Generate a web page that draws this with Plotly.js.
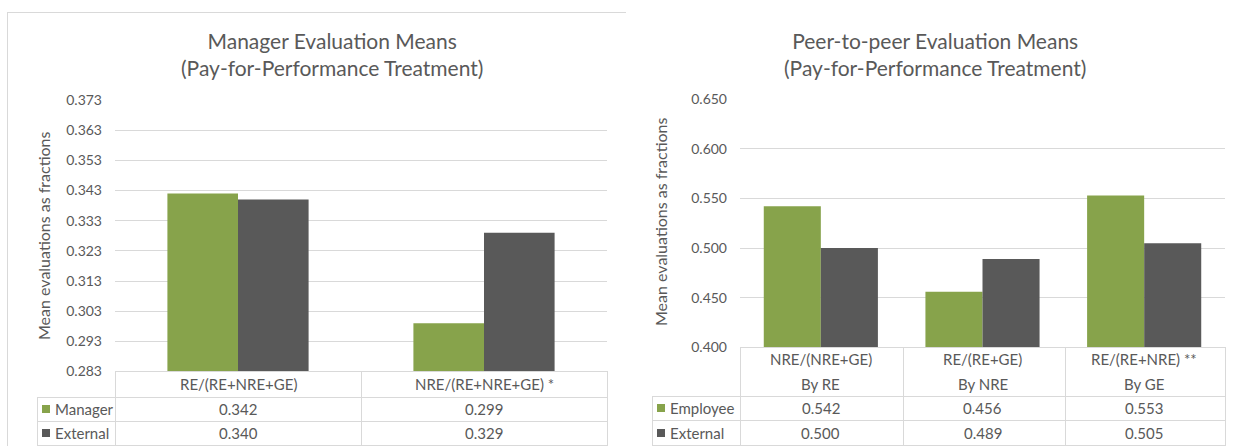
<!DOCTYPE html>
<html>
<head>
<meta charset="utf-8">
<script src="https://cdn.plot.ly/plotly-3.0.1.min.js"></script>
<style>html,body{margin:0;padding:0;background:#fff;}#chart{width:1234px;height:446px;}</style>
</head>
<body>
<div id="chart"></div>
<script>
// ---- data ----
const leftCategories = ['RE/(RE+NRE+GE)', 'NRE/(RE+NRE+GE) *'];
const managerValues = [0.342, 0.299];
const leftExternalValues = [0.340, 0.329];
const leftTickVals = [0.283, 0.293, 0.303, 0.313, 0.323, 0.333, 0.343, 0.353, 0.363, 0.373];

const rightCategories = ['NRE/(NRE+GE)', 'RE/(RE+GE)', 'RE/(RE+NRE) **'];
const rightSubLabels = ['By RE', 'By NRE', 'By GE'];
const employeeValues = [0.542, 0.456, 0.553];
const rightExternalValues = [0.500, 0.489, 0.505];
const rightTickVals = [0.400, 0.450, 0.500, 0.550, 0.600, 0.650];

const leftTitle = 'Manager Evaluation Means<br>(Pay-for-Performance Treatment)';
const rightTitle = 'Peer-to-peer Evaluation Means<br>(Pay-for-Performance Treatment)';
const yTitle = 'Mean evaluations as fractions';

// ---- layout helpers ----
const W = 1234, H = 446;
const px = x => x / W;
const py = y => 1 - y / H;
const GREEN = '#87a34b', GRAY = '#595959', LINE = '#d9d9d9', TXT = '#595959';
const FONT = 'Lato, "Open Sans", sans-serif';

const shapes = [];
const annotations = [];
function hline(x0, x1, y) { shapes.push({type:'line', xref:'paper', yref:'paper', x0:px(x0), x1:px(x1), y0:py(y), y1:py(y), line:{color:LINE, width:1}}); }
function vline(x, y0, y1) { shapes.push({type:'line', xref:'paper', yref:'paper', x0:px(x), x1:px(x), y0:py(y0), y1:py(y1), line:{color:LINE, width:1}}); }
function text(t, x, y, opts) {
  annotations.push(Object.assign({text:t, x:x, y:y, showarrow:false, font:{family:FONT, size:15, color:TXT}}, opts));
}

// chart border (left chart)
hline(7, 626, 12.5);
vline(7.5, 12, 446);

// ---- left table ----
hline(115, 607, 371.5);
hline(37, 607, 397.5);
hline(37, 607, 421.5);
hline(37, 607, 445.5);
vline(37.5, 397, 446);
[115.5, 361.5, 607.5].forEach(x => vline(x, 371, 446));
leftCategories.forEach((c, i) => {
  text(c, i, py(384), {xref:'x', yref:'paper', xanchor:'center', yanchor:'middle'});
  text(managerValues[i].toFixed(3), i, py(409), {xref:'x', yref:'paper', xanchor:'center', yanchor:'middle'});
  text(leftExternalValues[i].toFixed(3), i, py(433), {xref:'x', yref:'paper', xanchor:'center', yanchor:'middle'});
});
shapes.push({type:'rect', xref:'paper', yref:'paper', x0:px(42), x1:px(50), y0:py(413), y1:py(405), fillcolor:GREEN, line:{width:0}});
shapes.push({type:'rect', xref:'paper', yref:'paper', x0:px(42), x1:px(50), y0:py(437), y1:py(429), fillcolor:GRAY, line:{width:0}});
text('Manager', px(53), py(409), {xref:'paper', yref:'paper', xanchor:'left', yanchor:'middle'});
text('External', px(53), py(433), {xref:'paper', yref:'paper', xanchor:'left', yanchor:'middle'});

// ---- right table ----
hline(740, 1225, 347.5);
hline(652, 1225, 396.5);
hline(652, 1225, 420.5);
hline(652, 1225, 445.5);
vline(652.5, 396, 446);
[740.5, 903.5, 1065.5, 1225.5].forEach(x => vline(x, 347, 446));
rightCategories.forEach((c, i) => {
  text(c, c, py(359), {xref:'x2', yref:'paper', xanchor:'center', yanchor:'middle'});
  text(rightSubLabels[i], c, py(384), {xref:'x2', yref:'paper', xanchor:'center', yanchor:'middle'});
  text(employeeValues[i].toFixed(3), c, py(408), {xref:'x2', yref:'paper', xanchor:'center', yanchor:'middle'});
  text(rightExternalValues[i].toFixed(3), c, py(433), {xref:'x2', yref:'paper', xanchor:'center', yanchor:'middle'});
});
shapes.push({type:'rect', xref:'paper', yref:'paper', x0:px(657), x1:px(665), y0:py(412), y1:py(404), fillcolor:GREEN, line:{width:0}});
shapes.push({type:'rect', xref:'paper', yref:'paper', x0:px(657), x1:px(665), y0:py(437), y1:py(429), fillcolor:GRAY, line:{width:0}});
text('Employee', px(668), py(408), {xref:'paper', yref:'paper', xanchor:'left', yanchor:'middle'});
text('External', px(668), py(433), {xref:'paper', yref:'paper', xanchor:'left', yanchor:'middle'});

// ---- titles ----
text(leftTitle, px(332), py(54), {xref:'paper', yref:'paper', xanchor:'center', yanchor:'middle', font:{family:FONT, size:21, color:TXT}});
text(rightTitle, px(935), py(54), {xref:'paper', yref:'paper', xanchor:'center', yanchor:'middle', font:{family:FONT, size:21, color:TXT}});
text(yTitle, px(43), py(236), {xref:'paper', yref:'paper', xanchor:'center', yanchor:'middle', textangle:-90, font:{family:FONT, size:16, color:TXT}});
text(yTitle, px(660), py(222), {xref:'paper', yref:'paper', xanchor:'center', yanchor:'middle', textangle:-90, font:{family:FONT, size:16, color:TXT}});

// ---- traces ----
const wL = 0.287, wR = 0.353;
const traces = [
  {type:'bar', name:'Manager', x:leftCategories, y:managerValues, xaxis:'x', yaxis:'y', marker:{color:GREEN}, width:wL, offset:-wL, hoverinfo:'none'},
  {type:'bar', name:'External', x:leftCategories, y:leftExternalValues, xaxis:'x', yaxis:'y', marker:{color:GRAY}, width:wL, offset:0, hoverinfo:'none'},
  {type:'bar', name:'Employee', x:rightCategories, y:employeeValues, xaxis:'x2', yaxis:'y2', marker:{color:GREEN}, width:wR, offset:-wR, hoverinfo:'none'},
  {type:'bar', name:'External', x:rightCategories, y:rightExternalValues, xaxis:'x2', yaxis:'y2', marker:{color:GRAY}, width:wR, offset:0, hoverinfo:'none'}
];

const yCommon = {showline:false, zeroline:false, ticks:'', gridcolor:LINE, gridwidth:1, tickfont:{family:FONT, size:14, color:TXT}, ticklabelstandoff:12, tickmode:'array'};
const layout = {
  width:W, height:H, margin:{l:0, r:0, t:0, b:0},
  paper_bgcolor:'#fff', plot_bgcolor:'rgba(0,0,0,0)',
  showlegend:false, barmode:'overlay',
  xaxis:{domain:[px(115), px(607)], range:[-0.5, 1.5], showticklabels:false, showgrid:false, zeroline:false, showline:false, ticks:'', anchor:'y'},
  yaxis:Object.assign({}, yCommon, {domain:[py(371.5), py(100)], range:[0.283, 0.373], tickvals:leftTickVals, ticktext:leftTickVals.map(v=>v.toFixed(3)), anchor:'x'}),
  xaxis2:{domain:[px(740), px(1225)], range:[-0.5, 2.5], showticklabels:false, showgrid:false, zeroline:false, showline:false, ticks:'', anchor:'y2'},
  yaxis2:Object.assign({}, yCommon, {domain:[py(347.5), py(99)], range:[0.4, 0.65], tickvals:rightTickVals, ticktext:rightTickVals.map(v=>v.toFixed(3)), anchor:'x2'}),
  shapes:shapes, annotations:annotations
};
Plotly.newPlot('chart', traces, layout, {staticPlot:true, displayModeBar:false});
</script>
</body>
</html>
